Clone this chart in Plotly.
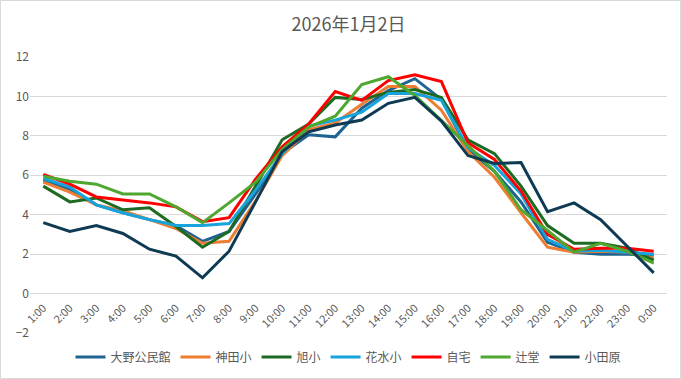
import plotly.graph_objects as go

times = ["1:00", "2:00", "3:00", "4:00", "5:00", "6:00", "7:00", "8:00", "9:00", "10:00",
         "11:00", "12:00", "13:00", "14:00", "15:00", "16:00", "17:00", "18:00", "19:00",
         "20:00", "21:00", "22:00", "23:00", "0:00"]

oono = [5.75, 5.3, 4.5, 4.1, 3.75, 3.45, 2.65, 3.15, 5.05, 7.1, 8.05, 7.95, 9.4, 10.3, 10.9, 9.85,
        7.3, 6.2, 4.65, 2.6, 2.1, 2.0, 2.0, 1.95]
kanda = [5.65, 5.15, 4.5, 4.2, 3.75, 3.3, 2.55, 2.65, 4.7, 7.0, 8.3, 8.65, 9.6, 10.5, 10.5, 9.3,
         7.2, 5.9, 4.1, 2.35, 2.1, 2.15, 2.1, 1.8]
asahi = [5.45, 4.65, 4.85, 4.25, 4.35, 3.4, 2.35, 3.15, 5.45, 7.8, 8.6, 9.95, 9.85, 10.2, 10.35, 9.95,
         7.8, 7.1, 5.45, 3.45, 2.55, 2.55, 2.3, 1.7]
hanamizu = [5.85, 5.4, 4.5, 4.1, 3.75, 3.45, 3.45, 3.55, 5.25, 7.1, 8.5, 8.8, 9.2, 10.15, 10.15, 9.8,
            7.4, 6.5, 5.05, 2.75, 2.15, 2.2, 2.1, 2.0]
jitaku = [6.05, 5.55, 4.9, 4.75, 4.6, 4.4, 3.65, 3.85, 5.8, 7.45, 8.6, 10.25, 9.8, 10.8, 11.1, 10.75,
          7.65, 6.8, 5.2, 3.0, 2.25, 2.3, 2.3, 2.15]
tsujido = [5.95, 5.7, 5.55, 5.05, 5.05, 4.4, 3.6, 4.6, 5.65, 7.3, 8.45, 9.0, 10.6, 11.0, 10.05, 8.8,
           7.5, 6.2, 4.25, 3.2, 2.1, 2.55, 2.15, 1.55]
odawara = [3.6, 3.15, 3.45, 3.05, 2.25, 1.9, 0.8, 2.15, 4.65, 7.2, 8.2, 8.55, 8.8, 9.65, 9.95, 8.75,
           7.0, 6.6, 6.65, 4.15, 4.6, 3.75, 2.4, 1.05]

series = [
    ("大野公民館", oono, "#1F6491"),
    ("神田小", kanda, "#ED7D31"),
    ("旭小", asahi, "#1D6B22"),
    ("花水小", hanamizu, "#17A3DC"),
    ("自宅", jitaku, "#FF0000"),
    ("辻堂", tsujido, "#4EA72E"),
    ("小田原", odawara, "#0E3B53"),
]

FONT = "Noto Sans CJK JP, Noto Sans, sans-serif"
GREY = "#595959"

fig = go.Figure()
for name, vals, color in series:
    fig.add_trace(go.Scatter(x=times, y=vals, name=name, mode="lines",
                             line=dict(color=color, width=3)))

W, H = 681, 379
ml, mr, mt, mb = 30, 14, 57, 46
pw, ph = W - ml - mr, H - mt - mb

fig.update_layout(
    width=W, height=H,
    margin=dict(l=ml, r=mr, t=mt, b=mb, autoexpand=False),
    paper_bgcolor="white", plot_bgcolor="white",
    font=dict(family=FONT, color=GREY, size=12),
    title=dict(text="2026年1月2日", x=0.5, xanchor="center", xref="paper",
               y=1 - 25 / H, yanchor="middle", yref="container", automargin=False,
               font=dict(size=18, color=GREY, family=FONT)),
    xaxis=dict(type="category", range=[-0.5, 23.5], tickangle=-45, showgrid=False,
               showline=False, ticks="", anchor="free", position=2 / 14, automargin=False,
               ticklabelstandoff=5,
               tickfont=dict(size=11, color=GREY), zeroline=False),
    yaxis=dict(range=[-2, 12], dtick=2, showgrid=True, gridcolor="#D9D9D9", gridwidth=1,
               zeroline=True, zerolinecolor="#D9D9D9", zerolinewidth=1, automargin=False,
               showline=False, ticks="", tickfont=dict(size=12, color=GREY), domain=[0, 1]),
    legend=dict(orientation="h", x=0.5, xanchor="center", xref="paper",
                y=1 - 357 / H, yanchor="middle", yref="container",
                font=dict(size=12, color=GREY), itemwidth=30, bgcolor="rgba(0,0,0,0)"),
    showlegend=True,
)

fig.add_shape(type="rect", xref="paper", yref="paper",
              x0=(-ml + 0.5) / pw, x1=1 + (mr - 0.5) / pw,
              y0=(-mb + 0.5) / ph, y1=1 + (mt - 0.5) / ph,
              line=dict(color="#D9D9D9", width=1), fillcolor="rgba(0,0,0,0)", layer="below")

fig.write_html("out.html", config={"displayModeBar": False},
               post_script="document.body.style.margin='0';document.body.style.overflow='hidden';")
